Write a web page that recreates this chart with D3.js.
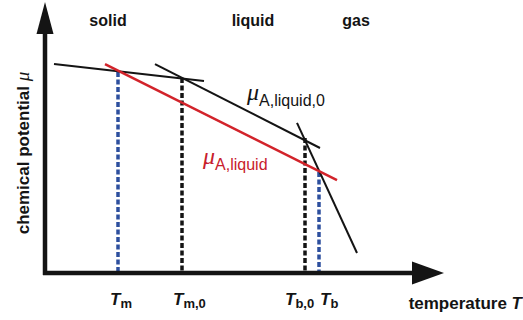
<!DOCTYPE html>
<html>
<head>
<meta charset="utf-8">
<script src="https://cdn.jsdelivr.net/npm/d3@7"></script>
<style>
  body { margin: 0; background: #fff; }
  svg { display: block; font-family: "Liberation Sans", Arial, sans-serif; }
</style>
</head>
<body>
<svg id="chart" width="523" height="320"></svg>
<script>
// phases along the top
const phases = ["solid", "liquid", "gas"];
const phaseT = [15.75, 52, 77.75];

// chemical potential lines, [T, mu] end points (arbitrary units)
const lineNames = ["solid", "liquid0", "gas", "liquid"];
const lineT = [[2.25, 39.75], [27.5, 68.75], [63, 78], [15, 73]];
const lineMu = [[77.4, 71.1], [77.4, 46.3], [55.6, 7.4], [77.4, 34.4]];

// transition temperatures (dashed drops)
const tickSubs = ["m", "m,0", "b,0", "b"];
const tickT = [18.25, 34.25, 65, 68.5];
const tickMuTop = [74.4, 72.2, 50, 37.4];

const W = 523, H = 320;
const red = "#d2232a", blue = "#2d4f9e", ink = "#141414";

const svg = d3.select("#chart");

const x = d3.scaleLinear().domain([0, 100]).range([45, 445]);
const y = d3.scaleLinear().domain([0, 100]).range([273, 3]);

// dashed verticals
const dashColors = [blue, ink, ink, blue];
svg.append("g").selectAll("line")
  .data(tickT)
  .join("line")
  .attr("x1", d => x(d)).attr("x2", d => x(d))
  .attr("y1", (d, i) => y(tickMuTop[i]))
  .attr("y2", y(0))
  .attr("stroke", (d, i) => dashColors[i])
  .attr("stroke-width", 3.5)
  .attr("stroke-dasharray", "5,2.5");

// potential lines
const lineColors = { solid: ink, liquid0: ink, gas: ink, liquid: red };
const lineWidths = { solid: 2, liquid0: 2, gas: 2, liquid: 2.5 };
const path = d3.line().x(d => x(d[0])).y(d => y(d[1]));

svg.append("g").selectAll("path")
  .data(lineNames)
  .join("path")
  .attr("d", (d, i) => path(d3.zip(lineT[i], lineMu[i])))
  .attr("fill", "none")
  .attr("stroke", d => lineColors[d])
  .attr("stroke-width", d => lineWidths[d]);

// axes with arrows
const ax = svg.append("g").attr("fill", ink).attr("stroke", ink);
ax.append("line")
  .attr("x1", x(0)).attr("x2", x(0))
  .attr("y1", y(0) + 2).attr("y2", 30)
  .attr("stroke-width", 4.5);
ax.append("line")
  .attr("x1", x(0) - 2).attr("x2", 415)
  .attr("y1", y(0)).attr("y2", y(0))
  .attr("stroke-width", 4.5);
ax.append("path")
  .attr("stroke", "none")
  .attr("d", `M${x(0)},2 L${x(0) + 8.5},34 L${x(0) - 8.5},34 Z`);
ax.append("path")
  .attr("stroke", "none")
  .attr("d", `M444,${y(0)} L412,${y(0) - 11.5} L412,${y(0) + 11.5} Z`);

// phase labels
svg.append("g").selectAll("text")
  .data(phases)
  .join("text")
  .attr("x", (d, i) => x(phaseT[i]))
  .attr("y", 26)
  .attr("text-anchor", "middle")
  .attr("font-size", 16)
  .attr("font-weight", "bold")
  .attr("fill", ink)
  .text(d => d);

// tick labels T_sub
const tickDx = [-8, -9, -20, 1];
const tl = svg.append("g").selectAll("text")
  .data(tickSubs)
  .join("text")
  .attr("x", (d, i) => x(tickT[i]) + tickDx[i])
  .attr("y", 305)
  .attr("font-weight", "bold")
  .attr("fill", ink);
tl.append("tspan")
  .attr("font-style", "italic")
  .attr("font-size", 17)
  .text("T");
tl.append("tspan")
  .attr("font-size", 13)
  .attr("dy", 3)
  .text(d => d);

// axis titles
const yt = svg.append("text")
  .attr("transform", "translate(29,153) rotate(-90)")
  .attr("text-anchor", "middle")
  .attr("font-size", 17)
  .attr("font-weight", "bold")
  .attr("fill", ink);
yt.append("tspan").text("chemical potential ");
yt.append("tspan")
  .attr("font-family", "Liberation Serif, serif")
  .attr("font-style", "italic")
  .attr("font-weight", "normal")
  .attr("font-size", 19)
  .text("μ");

const xt = svg.append("text")
  .attr("x", 522)
  .attr("y", 309)
  .attr("text-anchor", "end")
  .attr("font-size", 17)
  .attr("font-weight", "bold")
  .attr("fill", ink);
xt.append("tspan").text("temperature ");
xt.append("tspan").attr("font-style", "italic").text("T");

// mu labels on the lines
const muLabels = [
  { sub: "A,liquid,0", color: ink, T: 50.5, mu: 64 },
  { sub: "A,liquid", color: "#c8202c", T: 39.5, mu: 40.5 }
];
const ml = svg.append("g").selectAll("text")
  .data(muLabels)
  .join("text")
  .attr("x", d => x(d.T))
  .attr("y", d => y(d.mu))
  .attr("fill", d => d.color);
ml.append("tspan")
  .attr("font-family", "Liberation Serif, serif")
  .attr("font-style", "italic")
  .attr("font-size", 24)
  .text("μ");
ml.append("tspan")
  .attr("font-size", 16)
  .attr("dy", 6)
  .text(d => d.sub);
</script>
</body>
</html>
